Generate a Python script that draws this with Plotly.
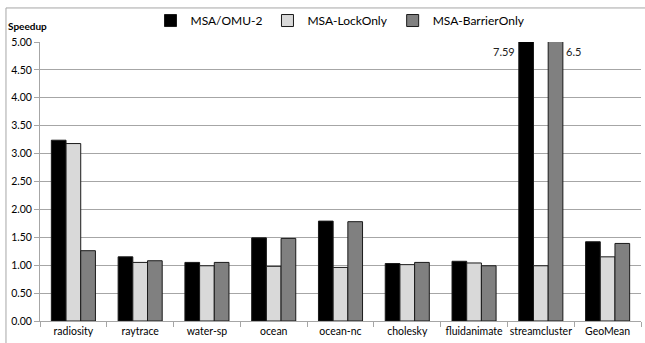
import plotly.graph_objects as go

# Benchmarks and speedup per configuration
benchmarks = ["radiosity", "raytrace", "water-sp", "ocean", "ocean-nc",
              "cholesky", "fluidanimate", "streamcluster", "GeoMean"]
msa_omu2 = [3.24, 1.15, 1.05, 1.49, 1.79, 1.03, 1.07, 7.59, 1.42]
lock_only = [3.18, 1.05, 0.99, 0.98, 0.96, 1.01, 1.04, 0.99, 1.15]
barrier_only = [1.26, 1.08, 1.05, 1.48, 1.78, 1.05, 0.99, 6.5, 1.39]

series_names = ["MSA/OMU-2", "MSA-LockOnly", "MSA-BarrierOnly"]
series_values = [msa_omu2, lock_only, barrier_only]
series_colors = ["#000000", "#d9d9d9", "#808080"]

FONT = "Lato, 'Open Sans', sans-serif"
Y_MAX = 5.0

fig = go.Figure()
for name, vals, col in zip(series_names, series_values, series_colors):
    fig.add_trace(go.Bar(
        x=benchmarks, y=vals, name=name,
        marker=dict(color=col, line=dict(color="#1a1a1a", width=1)),
    ))

# Values that exceed the axis range are written next to the clipped bars
clip_idx = benchmarks.index("streamcluster")
fig.add_annotation(x=benchmarks[clip_idx], y=Y_MAX, xref="x", yref="y",
                   text=f"{msa_omu2[clip_idx]:.2f}", showarrow=False,
                   xanchor="right", yanchor="top", xshift=-24, yshift=-1,
                   font=dict(family=FONT, size=11, color="#222"))
fig.add_annotation(x=benchmarks[clip_idx], y=Y_MAX, xref="x", yref="y",
                   text=f"{barrier_only[clip_idx]:g}", showarrow=False,
                   xanchor="left", yanchor="top", xshift=23, yshift=-1,
                   font=dict(family=FONT, size=11, color="#222"))

# Axis title placed above the y axis
fig.add_annotation(x=0, y=1.0, xref="paper", yref="paper",
                   text="<b>Speedup</b>", showarrow=False,
                   xanchor="left", yanchor="bottom", xshift=-34, yshift=8,
                   font=dict(family=FONT, size=10, color="#000"))

# Outer chart frame
fig.add_shape(type="rect", xref="paper", yref="paper",
              x0=-0.0566, x1=1.05, y0=-0.2, y1=1.122,
              line=dict(color="#a6a6a6", width=1), fillcolor="rgba(0,0,0,0)")

fig.update_layout(
    width=645, height=343,
    margin=dict(l=40, r=4, t=42, b=22),
    paper_bgcolor="white", plot_bgcolor="white",
    barmode="group", bargap=0.34, bargroupgap=0,
    font=dict(family=FONT, color="#222"),
    legend=dict(orientation="h", x=0.5, xanchor="center", y=1.077,
                yanchor="middle", font=dict(family=FONT, size=12, color="#000"),
                itemwidth=30, bgcolor="rgba(0,0,0,0)"),
    showlegend=True,
)
fig.update_xaxes(
    showgrid=False, showline=True, linecolor="#a6a6a6", linewidth=1,
    ticks="outside", tickson="boundaries", ticklen=5, tickcolor="#a6a6a6",
    tickangle=0,
    tickfont=dict(family=FONT, size=10.5, color="#000"),
)
fig.update_yaxes(
    range=[0, Y_MAX], dtick=0.5, tickformat=".2f",
    showgrid=True, gridcolor="#a6a6a6", gridwidth=1.3,
    showline=True, linecolor="#a6a6a6", linewidth=1,
    ticks="outside", ticklen=5, tickcolor="#a6a6a6",
    tickfont=dict(family=FONT, size=10.5, color="#000"),
    zeroline=False,
)

fig.write_html("out.html")
